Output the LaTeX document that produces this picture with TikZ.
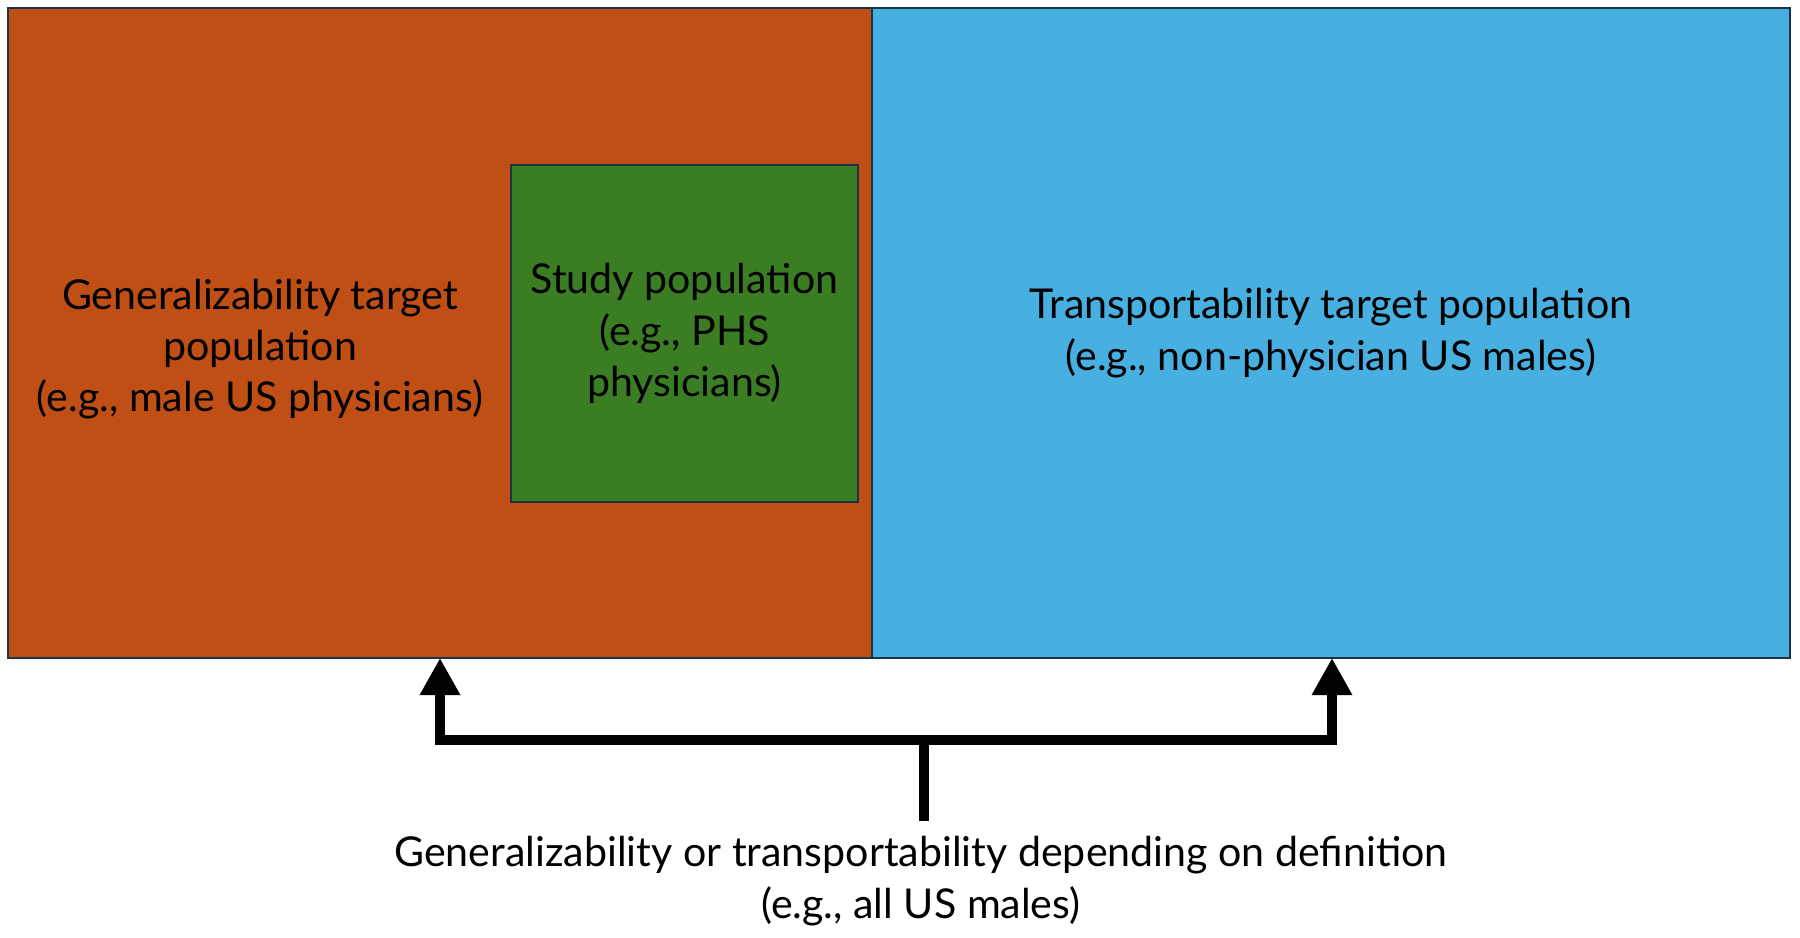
\documentclass[tikz,border=0pt]{standalone}
\usepackage{fontspec}
\setmainfont{Lato}
\usepackage{xcolor}
\usetikzlibrary{arrows.meta}

\definecolor{genorange}{HTML}{C04F15}
\definecolor{studygreen}{HTML}{3B7D23}
\definecolor{transblue}{HTML}{47B0E1}
\definecolor{edgenavy}{HTML}{1A3347}

\tikzset{
    popbox/.style={draw=edgenavy, line width=0.7pt, inner sep=0pt, outer sep=0pt},
    poptext/.style={align=center, font=\fontsize{11.7}{14.6}\selectfont},
    bar/.style={line width=2.6pt, line join=miter},
    bararrow/.style={bar, -{Triangle[width=0.38cm, length=0.37cm]}}
}

\begin{document}
\begin{tikzpicture}
    \useasboundingbox (0,0) rectangle (18,9.37);

    % Population boxes
    \node[popbox, fill=genorange, minimum width=8.64cm, minimum height=6.5cm, anchor=north west] (gen) at (0.08,9.29) {};
    \node[popbox, fill=transblue, minimum width=9.18cm, minimum height=6.5cm, anchor=north west] (trans) at (gen.north east) {};
    \node[popbox, fill=studygreen, minimum width=3.47cm, minimum height=3.37cm, anchor=north west] (study) at (5.11,7.72) {};

    % Labels
    \node[poptext] (genlabel) at (2.6,5.88) {Generalizability target\\population\\(e.g., male US physicians)};
    \node[poptext] (studylabel) at (study.center) {Study population\\(e.g., PHS\\physicians)};
    \node[poptext] (translabel) at (trans.center) {Transportability target population\\(e.g., non-physician US males)};
    \node[poptext] (both) at (9.21,0.56) {Generalizability or transportability depending on definition\\(e.g., all US males)};

    % Bracket arrows
    \coordinate (tipL) at (4.40,2.79);
    \coordinate (tipR) at (13.32,2.79);
    \coordinate (join) at (9.24,1.97);
    \coordinate (stem) at (9.24,1.16);
    \draw[bar] (stem) -- (join);
    \draw[bararrow] (join) -| (tipL);
    \draw[bararrow] (join) -| (tipR);
\end{tikzpicture}
\end{document}
